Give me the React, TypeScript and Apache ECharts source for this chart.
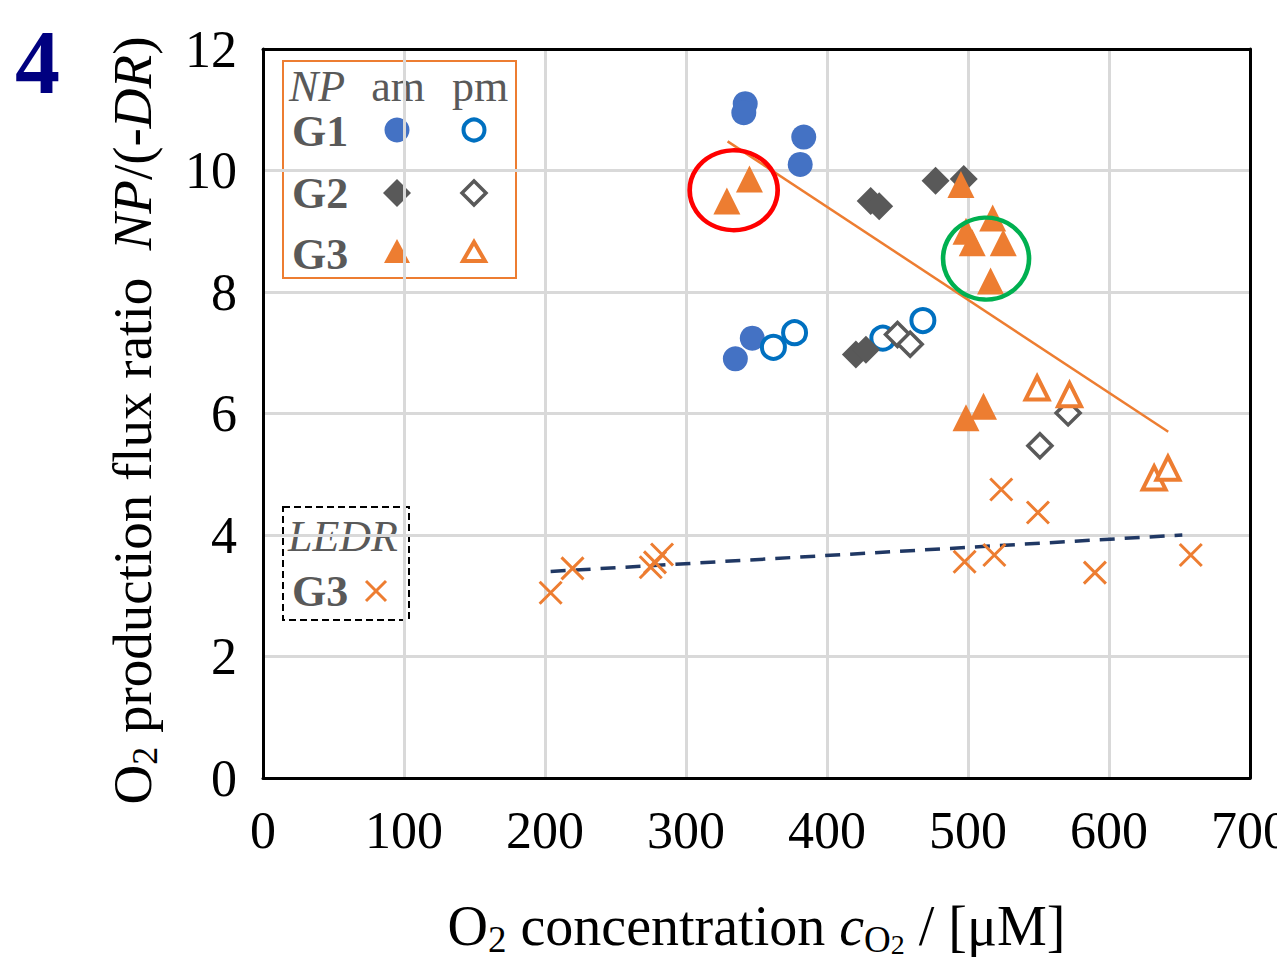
import React, { useEffect, useRef } from 'react';
import * as echarts from 'echarts';

// ---- data ----
const g1AmX = [342, 341, 383.5, 381, 347, 335];
const g1AmY = [11.1, 10.95, 10.55, 10.1, 7.24, 6.9];
const g1PmX = [362, 377, 439.6, 468];
const g1PmY = [7.09, 7.33, 7.24, 7.53];
const g2AmX = [477, 497, 431, 437, 420.5, 427.6];
const g2AmY = [9.83, 9.86, 9.5, 9.41, 6.97, 7.05];
const g2PmX = [450, 459, 571, 551];
const g2PmY = [7.3, 7.14, 6.01, 5.47];
const g3AmX = [329, 345, 495, 517.5, 498.6, 503, 525, 516, 498.6, 511];
const g3AmY = [9.5, 9.86, 9.77, 9.22, 9.0, 8.81, 8.81, 8.18, 5.93, 6.12];
const g3PmX = [549, 572, 632, 641.8];
const g3PmY = [6.42, 6.31, 4.94, 5.1];
const ledrX = [204, 219.5, 275, 278, 283, 497.6, 518.7, 523.6, 549.6, 590, 658];
const ledrY = [3.05, 3.45, 3.47, 3.55, 3.68, 3.56, 3.67, 4.75, 4.37, 3.38, 3.67];
const npTrendX = [329.5, 642];
const npTrendY = [10.48, 5.7];
const ledrTrendX = [204, 652];
const ledrTrendY = [3.4, 4.0];
const redCircle = [333.8, 9.675];
const greenCircle = [512.8, 8.55];
const xTicks = { min: 0, max: 700, step: 100 };
const yTicks = { min: 0, max: 12, step: 2 };

const pts = (xs: number[], ys: number[]) => xs.map((x, i) => [x, ys[i]]);

const F = '"Liberation Serif", serif';
const ORANGE = '#ED7D31';
const GREY = '#595959';

export default function App() {
  const ref = useRef<HTMLDivElement>(null);
  useEffect(() => {
    if (!ref.current) return;
    const chart = echarts.init(ref.current, undefined, { renderer: 'svg' });
    const gridLine = { color: '#D9D9D9', width: 3 };
    const frame = { color: '#000', width: 3 };
    const option: any = {
      animation: false,
      grid: { left: 263, right: 27, top: 49, bottom: 184, containLabel: false, outerBoundsMode: 'none' },
      xAxis: [
        {
          type: 'value', min: xTicks.min, max: xTicks.max, interval: xTicks.step, position: 'bottom',
          axisLine: { show: true, onZero: false, lineStyle: frame },
          axisTick: { show: false },
          axisLabel: { fontFamily: F, fontSize: 52, color: '#000', margin: 26 },
          splitLine: { show: true, showMinLine: false, showMaxLine: false, lineStyle: gridLine },
          name: 'O{s|2} concentration {ci|c}{so|O}{ss|2} / [μM]',
          nameLocation: 'middle', nameGap: 116,
          nameTextStyle: {
            fontFamily: F, fontSize: 56, color: '#000', lineHeight: 64,
            rich: {
              s: { fontFamily: F, fontSize: 37, color: '#000', lineHeight: 36, verticalAlign: 'bottom' },
              ci: { fontFamily: F, fontSize: 56, color: '#000', fontStyle: 'italic', lineHeight: 64 },
              so: { fontFamily: F, fontSize: 37, color: '#000', lineHeight: 36, verticalAlign: 'bottom' },
              ss: { fontFamily: F, fontSize: 28, color: '#000', lineHeight: 18, verticalAlign: 'bottom' },
            },
          },
        },
        {
          type: 'value', min: xTicks.min, max: xTicks.max, interval: xTicks.step, position: 'top',
          axisLine: { show: true, onZero: false, lineStyle: frame },
          axisTick: { show: false }, axisLabel: { show: false }, splitLine: { show: false },
        },
      ],
      yAxis: [
        {
          type: 'value', min: yTicks.min, max: yTicks.max, interval: yTicks.step, position: 'left',
          axisLine: { show: true, onZero: false, lineStyle: frame },
          axisTick: { show: false },
          axisLabel: { fontFamily: F, fontSize: 52, color: '#000', margin: 26 },
          splitLine: { show: true, showMinLine: false, showMaxLine: false, lineStyle: gridLine },
          name: 'O{s|2} production flux ratio  {i|NP}/(-{i|DR})',
          nameLocation: 'middle', nameGap: 100,
          nameTextStyle: {
            fontFamily: F, fontSize: 55, color: '#000', lineHeight: 62,
            padding: [0, 14, 0, 0],
            rich: {
              s: { fontFamily: F, fontSize: 36, color: '#000', lineHeight: 35, verticalAlign: 'bottom' },
              i: { fontFamily: F, fontSize: 55, color: '#000', fontStyle: 'italic', lineHeight: 62 },
            },
          },
        },
        {
          type: 'value', min: yTicks.min, max: yTicks.max, interval: yTicks.step, position: 'right',
          axisLine: { show: true, onZero: false, lineStyle: frame },
          axisTick: { show: false }, axisLabel: { show: false }, splitLine: { show: false },
        },
      ],
      series: [
        {
          type: 'line', data: pts(npTrendX, npTrendY), showSymbol: false, silent: true, z: 1,
          lineStyle: { color: ORANGE, width: 2.5 },
        },
        {
          type: 'line', data: pts(ledrTrendX, ledrTrendY), showSymbol: false, silent: true, z: 1,
          lineStyle: { color: '#203864', width: 3.5, type: [15, 10] },
        },
        {
          type: 'scatter', data: pts(g1AmX, g1AmY), symbol: 'circle', symbolSize: 25, silent: true,
          itemStyle: { color: '#4472C4', opacity: 1 },
        },
        {
          type: 'scatter', data: pts(g1PmX, g1PmY), symbol: 'circle', symbolSize: 23, silent: true,
          itemStyle: { color: '#fff', borderColor: '#0070C0', borderWidth: 4, opacity: 1 },
        },
        {
          type: 'scatter', data: pts(g2AmX, g2AmY), symbol: 'diamond', symbolSize: 28, silent: true,
          itemStyle: { color: GREY, opacity: 1 },
        },
        {
          type: 'scatter', data: pts(g2PmX, g2PmY), symbol: 'diamond', symbolSize: 24, silent: true,
          itemStyle: { color: '#fff', borderColor: GREY, borderWidth: 3.5, opacity: 1 },
        },
        {
          type: 'scatter', data: pts(g3AmX, g3AmY), symbol: 'triangle', symbolSize: 27, silent: true,
          itemStyle: { color: ORANGE, opacity: 1 },
        },
        {
          type: 'scatter', data: pts(g3PmX, g3PmY), symbol: 'triangle', symbolSize: 23, silent: true,
          itemStyle: { color: '#fff', borderColor: ORANGE, borderWidth: 4, opacity: 1 },
        },
        {
          type: 'scatter', data: pts(ledrX, ledrY), symbol: 'path://M0,0L20,20M20,0L0,20', symbolSize: 22, silent: true,
          itemStyle: { color: 'none', borderColor: ORANGE, borderWidth: 3, opacity: 1 },
        },
        {
          type: 'scatter', data: [redCircle], symbol: 'circle', symbolSize: [88, 80], silent: true, z: 5,
          itemStyle: { color: 'rgba(0,0,0,0)', borderColor: '#FF0000', borderWidth: 4.5, opacity: 1 },
        },
        {
          type: 'scatter', data: [greenCircle], symbol: 'circle', symbolSize: [86, 82], silent: true, z: 5,
          itemStyle: { color: 'rgba(0,0,0,0)', borderColor: '#00B050', borderWidth: 4.5, opacity: 1 },
        },
      ],
      graphic: [
        {
          type: 'text', x: 15, y: 17, z: 100,
          style: { text: '4', font: `bold 90px ${F}`, fill: '#000080' },
        },
        // NP legend box
        {
          type: 'group', z: 100,
          children: [
            { type: 'rect', shape: { x: 283, y: 61, width: 233, height: 217 }, style: { fill: '#fff', stroke: ORANGE, lineWidth: 2 } },
            { type: 'text', x: 289, y: 86, style: { text: 'NP', font: `italic 44px ${F}`, fill: GREY, verticalAlign: 'middle' } },
            { type: 'text', x: 398, y: 86, style: { text: 'am', font: `44px ${F}`, fill: GREY, align: 'center', verticalAlign: 'middle' } },
            { type: 'text', x: 480, y: 86, style: { text: 'pm', font: `44px ${F}`, fill: GREY, align: 'center', verticalAlign: 'middle' } },
            { type: 'text', x: 292, y: 131, style: { text: 'G1', font: `bold 44px ${F}`, fill: GREY, verticalAlign: 'middle' } },
            { type: 'text', x: 292, y: 193, style: { text: 'G2', font: `bold 44px ${F}`, fill: GREY, verticalAlign: 'middle' } },
            { type: 'text', x: 292, y: 254, style: { text: 'G3', font: `bold 44px ${F}`, fill: GREY, verticalAlign: 'middle' } },
            { type: 'circle', shape: { cx: 397, cy: 130, r: 12.5 }, style: { fill: '#4472C4' } },
            { type: 'circle', shape: { cx: 474, cy: 130, r: 10.5 }, style: { fill: '#fff', stroke: '#0070C0', lineWidth: 4 } },
            { type: 'polygon', shape: { points: [[397, 179], [411, 193], [397, 207], [383, 193]] }, style: { fill: GREY } },
            { type: 'polygon', shape: { points: [[474, 181], [486, 193], [474, 205], [462, 193]] }, style: { fill: '#fff', stroke: GREY, lineWidth: 3.5 } },
            { type: 'polygon', shape: { points: [[397, 239], [410, 263], [384, 263]] }, style: { fill: ORANGE } },
            { type: 'polygon', shape: { points: [[474, 242], [485, 261], [463, 261]] }, style: { fill: '#fff', stroke: ORANGE, lineWidth: 4 } },
          ],
        },
        // LEDR legend box
        {
          type: 'group', z: 100,
          children: [
            { type: 'rect', shape: { x: 283, y: 507, width: 126, height: 113 }, style: { fill: '#fff', stroke: '#000', lineWidth: 2, lineDash: [7, 4] } },
            { type: 'text', x: 288, y: 536, style: { text: 'LEDR', font: `italic 44px ${F}`, fill: GREY, verticalAlign: 'middle' } },
            { type: 'text', x: 292, y: 591, style: { text: 'G3', font: `bold 44px ${F}`, fill: GREY, verticalAlign: 'middle' } },
            { type: 'line', shape: { x1: 366, y1: 581, x2: 386, y2: 601 }, style: { stroke: ORANGE, lineWidth: 3 } },
            { type: 'line', shape: { x1: 386, y1: 581, x2: 366, y2: 601 }, style: { stroke: ORANGE, lineWidth: 3 } },
          ],
        },
      ],
    };
    chart.setOption(option);
    return () => chart.dispose();
  }, []);
  return (
    <div
      ref={ref}
      style={{ position: 'absolute', left: 0, top: 0, width: 1277, height: 962, background: '#fff' }}
    />
  );
}
